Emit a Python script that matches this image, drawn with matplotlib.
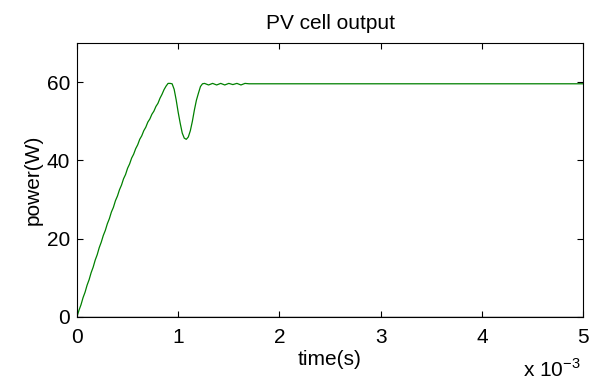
import matplotlib
matplotlib.use("Agg")
import numpy as np
import matplotlib.pyplot as plt

plt.rcParams['font.family'] = ['Liberation Sans', 'DejaVu Sans']

# time in ms, power in W
t_ms = [0, 0.02, 0.04, 0.06, 0.08, 0.10, 0.12, 0.14, 0.16, 0.18, 0.20,
        0.22, 0.24, 0.26, 0.28, 0.30, 0.32, 0.34, 0.36, 0.38, 0.40,
        0.42, 0.44, 0.46, 0.48, 0.50, 0.52, 0.54, 0.56, 0.58, 0.60,
        0.62, 0.64, 0.66, 0.68, 0.70, 0.72, 0.74, 0.76, 0.78, 0.80,
        0.82, 0.84, 0.86, 0.88, 0.90, 0.92, 0.94, 0.96, 0.98, 1.00,
        1.02, 1.04, 1.06, 1.08, 1.10, 1.12, 1.14, 1.16, 1.18, 1.20,
        1.22, 1.24, 1.26, 1.30, 1.34, 1.38, 1.42, 1.46, 1.50, 1.54,
        1.58, 1.62, 1.66, 1.70, 5.00]
power = [0, 1.7, 3.1, 4.9, 6.3, 8.1, 9.5, 11.3, 12.7, 14.5, 15.9,
         17.7, 19.1, 20.8, 22.1, 23.8, 25.1, 26.8, 28.0, 29.7, 30.9,
         32.5, 33.7, 35.3, 36.4, 38.0, 39.1, 40.6, 41.6, 43.0, 44.0,
         45.4, 46.3, 47.6, 48.5, 49.8, 50.6, 51.8, 52.6, 53.8, 54.6,
         55.9, 56.9, 58.1, 59.0, 59.7, 59.7, 59.6, 58.2, 55.5, 52.3,
         49.5, 47.0, 45.7, 45.4, 46.0, 47.6, 50.0, 52.9, 55.4, 57.2,
         58.9, 59.6, 59.7, 59.3, 59.7, 59.3, 59.7, 59.3, 59.7, 59.4,
         59.7, 59.3, 59.7, 59.6, 59.6]
zero_t = [0, 5.0]
zero_p = [0, 0]

fig = plt.figure(figsize=(5.92, 3.85), dpi=100)
ax = fig.add_axes([0.130, 0.177, 0.855, 0.711])

t = np.array(t_ms) * 1e-3
ax.plot(np.array(zero_t) * 1e-3, zero_p, color='black', lw=1.0)
ax.plot(t, power, color='#008000', lw=0.9)

ax.set_xlim(0, 5e-3)
ax.set_ylim(0, 70)
ax.set_xticks(np.arange(0, 6) * 1e-3)
ax.set_xticklabels(['0', '1', '2', '3', '4', '5'])
ax.set_yticks([0, 20, 40, 60])
ax.tick_params(direction='in', top=True, right=True, labelsize=15, length=4)
ax.tick_params(axis='x', pad=8)
ax.tick_params(axis='y', pad=5)
for s in ax.spines.values():
    s.set_linewidth(0.8)

ax.set_title('PV cell output', fontsize=15, pad=10)
ax.set_xlabel('time(s)', fontsize=15, labelpad=2)
ax.set_ylabel('power(W)', fontsize=15, labelpad=3)
fig.text(0.883, 0.021, r'x 10$^{\mathregular{-3}}$', fontsize=15)

fig.savefig('out.png', dpi=100)
